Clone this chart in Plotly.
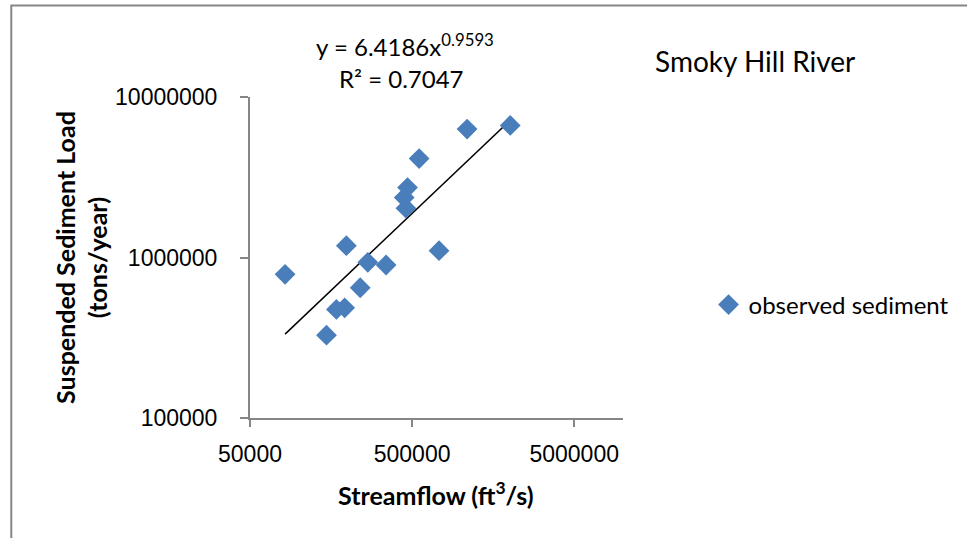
import plotly.graph_objects as go
import numpy as np

streamflow = [82300, 148200, 170600, 191800, 196500, 239300, 266500, 345500,
              458000, 447000, 468600, 552600, 733000, 1092000, 2015000]
sediment = [785000, 328000, 475000, 486000, 1185000, 648000, 933000, 898000,
            2028000, 2362000, 2728000, 4136000, 1103000, 6313000, 6650000]
coef_a = 6.4186
coef_b = 0.9593
r_squared = 0.7047
x_ticks = [50000, 500000, 5000000]
y_ticks = [100000, 1000000, 10000000]

trend_x = np.logspace(np.log10(min(streamflow)), np.log10(max(streamflow)), 50)
trend_y = coef_a * trend_x ** coef_b

L, R, T, B = 250, 342, 97, 120
W, H = 967, 538
pw, ph = W - L - R, H - T - B


def px(x):
    return (x - L) / pw


def py(y):
    return (H - B - y) / ph


fig = go.Figure()
fig.add_trace(go.Scatter(x=trend_x, y=trend_y, mode="lines",
                         line=dict(color="black", width=1.5), showlegend=False,
                         hoverinfo="skip"))
fig.add_trace(go.Scatter(x=streamflow, y=sediment, mode="markers",
                         name="observed sediment",
                         marker=dict(symbol="diamond", size=16, color="#4A7EBB")))

font_main = "Lato, Open Sans, sans-serif"
tick_font = dict(family="Liberation Sans, Arial", size=23, color="black")

fig.update_layout(
    width=W, height=H,
    margin=dict(l=L, r=R, t=T, b=B),
    paper_bgcolor="white", plot_bgcolor="white",
    xaxis=dict(type="log", range=[np.log10(50000), 7], tickvals=x_ticks,
               ticktext=[str(v) for v in x_ticks], showgrid=False, zeroline=False,
               showline=True, linecolor="#868686", linewidth=2,
               ticks="outside", ticklen=7, tickcolor="#868686", tickwidth=2,
               tickfont=tick_font, ticklabelstandoff=7),
    yaxis=dict(type="log", range=[5, 7], tickvals=y_ticks,
               ticktext=[str(v) for v in y_ticks], showgrid=False, zeroline=False,
               showline=True, linecolor="#868686", linewidth=2,
               ticks="outside", ticklen=8, tickcolor="#868686", tickwidth=2,
               tickfont=tick_font, ticklabelstandoff=18),
    legend=dict(x=px(711), y=py(305), yanchor="middle", xanchor="left",
                font=dict(family=font_main, size=24, color="black"),
                bgcolor="rgba(0,0,0,0)", itemwidth=30),
    showlegend=True,
)

def note(x, y, text, size, angle=0):
    fig.add_annotation(x=px(x), y=py(y), xref="paper", yref="paper",
                       xanchor="center", yanchor="middle",
                       text=text, showarrow=False, textangle=angle,
                       font=dict(family=font_main, size=size, color="black"))

note(437, 493, "<b>Streamflow (ft<sup>3</sup>/s)</b>", 25)
note(80, 257, "<b>Suspended Sediment Load<br>(tons/year)</b>", 25, -90)
note(758, 61, "Smoky Hill River", 28)
note(406, 45, f"y = {coef_a}x<sup>{coef_b}</sup>", 24)
note(402, 78, f"R² = {r_squared}", 24)

fig.add_shape(type="rect", xref="paper", yref="paper",
              x0=px(10), y0=py(600), x1=px(1100), y1=py(5.5),
              line=dict(color="#868686", width=2), fillcolor="rgba(0,0,0,0)",
              layer="below")

fig.write_html("out.html")
